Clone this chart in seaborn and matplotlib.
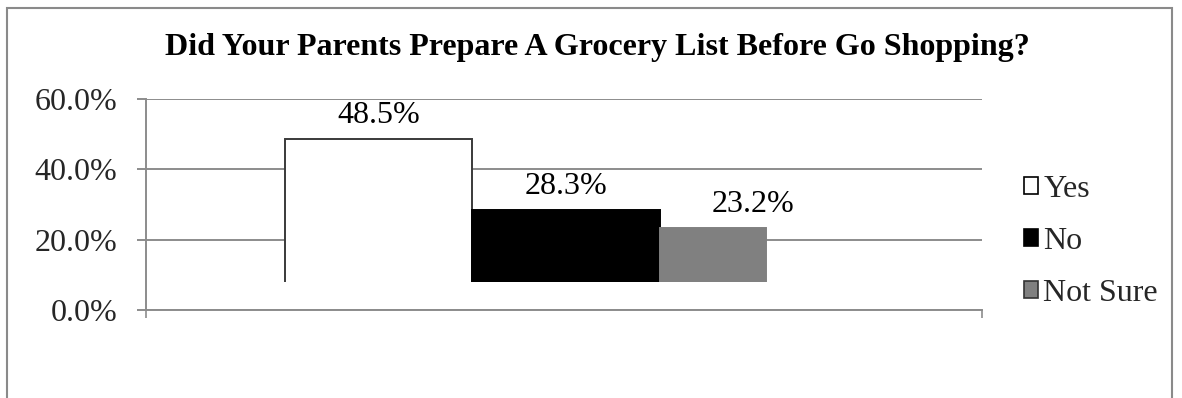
import matplotlib
matplotlib.use("Agg")
import matplotlib.pyplot as plt
from matplotlib.patches import Patch, Rectangle
import seaborn as sns
import pandas as pd

# Survey answers (percent of respondents)
categories = ["Yes", "No", "Not Sure"]
values = [48.5, 28.3, 23.2]
value_labels = ["48.5%", "28.3%", "23.2%"]
y_ticks = [0, 20, 40, 60]
y_tick_labels = ["0.0%", "20.0%", "40.0%", "60.0%"]
title = "Did Your Parents Prepare A Grocery List Before Go Shopping?"

bar_colors = ["#ffffff", "#000000", "#808080"]
edge_colors = ["#3a3a3a", "#000000", "#808080"]
grid_color = "#8c8c8c"
floor = 7.7            # columns rise from the chart floor
bar_widths = [1.0, 1.0, 0.57]

sns.set_theme(style="white")
plt.rcParams["font.family"] = ["Liberation Serif", "DejaVu Serif"]

fig = plt.figure(figsize=(11.82, 3.98), dpi=100)
ax = fig.add_axes([146 / 1182, 1 - 310 / 398, (982 - 146) / 1182, (310 - 99) / 398])

df = pd.DataFrame({"answer": categories, "share": values})
sns.barplot(data=df, x="answer", y="share", hue="answer", palette=bar_colors,
            width=1.0, dodge=False, legend=False, ax=ax, zorder=3,
            saturation=1)

# hide the lower outline of the columns where they meet the floor
floor_clip = Rectangle((-5, floor + 0.35), 20, 200, transform=ax.transData)
for patch, val, w, ec in zip(ax.patches, values, bar_widths, edge_colors):
    x0 = patch.get_x()
    patch.set_y(floor)
    patch.set_height(val - floor)
    patch.set_width(w)
    patch.set_x(x0)
    patch.set_edgecolor(ec)
    patch.set_linewidth(1.4)
    patch.set_clip_path(floor_clip)

# value labels centred over each category slot
for i, (val, lab) in enumerate(zip(values, value_labels)):
    ax.annotate(lab, xy=(i, val), xytext=(0, 17), textcoords="offset points",
                ha="center", va="center", fontsize=23, color="#000000")

ax.set_xlim(-1.242, 3.221)
ax.set_ylim(0, 60)
ax.set_yticks(y_ticks)
ax.set_yticklabels(y_tick_labels, fontsize=23)
ax.set_xticks([-1.242, 3.221])
ax.set_xticklabels(["", ""])
ax.set_xlabel("")
ax.set_ylabel("")
ax.yaxis.grid(True, color=grid_color, linewidth=1.4, zorder=0)
ax.set_axisbelow(True)
ax.tick_params(axis="y", direction="out", length=6.5, width=1.4, color=grid_color,
               pad=14, left=True)
ax.tick_params(axis="x", direction="out", length=6, width=1.2, color=grid_color,
               bottom=True)
for side in ["top", "right"]:
    ax.spines[side].set_visible(False)
ax.spines["left"].set_color(grid_color)
ax.spines["left"].set_linewidth(1.4)
ax.spines["bottom"].set_color(grid_color)
ax.spines["bottom"].set_linewidth(1.4)

fig.text(597 / 1182, 1 - 48 / 398, title, ha="center", va="center",
         fontsize=23, fontweight="bold", color="#000000")

handles = [Patch(facecolor=c, edgecolor=e, linewidth=1.2)
           for c, e in zip(bar_colors, ["#000000", "#000000", "#333333"])]
fig.legend(handles, categories, loc="upper left",
           bbox_to_anchor=(1024 / 1182, 1 - 175 / 398), frameon=False,
           fontsize=23, handlelength=0.45, handleheight=0.45,
           handletextpad=0.15, labelspacing=0.72, borderpad=0, borderaxespad=0)

fig.add_artist(Rectangle((7 / 1182, -0.05), (1172 - 7) / 1182, 1.05 - 8 / 398,
                         transform=fig.transFigure, fill=False,
                         edgecolor="#8a8a8a", linewidth=1.5))

fig.savefig("out.png", dpi=100)
